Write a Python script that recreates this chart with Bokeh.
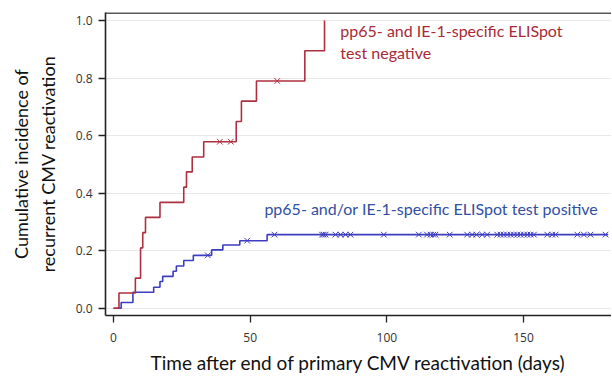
from bokeh.plotting import figure
from bokeh.models import Label, Range1d, FixedTicker, CustomJSTickFormatter, Span
from bokeh.embed import file_html
from bokeh.resources import INLINE

# Negative ELISpot group (red) - step curve
neg_time = [0, 2, 8, 9.9, 10.7, 11.7, 17, 25.7, 26.7, 28.8, 33, 44.9, 46.8, 52.3, 70, 77.2]
neg_inc = [0, 0.053, 0.105, 0.21, 0.263, 0.316, 0.368, 0.421, 0.474, 0.526, 0.579, 0.649, 0.72, 0.79, 0.895, 1.0]
neg_cens_time = [38.9, 42.9, 59.9]
neg_cens_inc = [0.579, 0.579, 0.79]

# Positive ELISpot group (blue) - step curve
pos_time = [0, 2.8, 7.1, 14.7, 17, 18, 21.8, 23, 25.7, 29.2, 35.9, 40, 46.2, 56.2, 181]
pos_inc = [0, 0.02, 0.056, 0.073, 0.093, 0.111, 0.129, 0.147, 0.166, 0.184, 0.203, 0.22, 0.235, 0.256, 0.256]
pos_cens_time = [34.5, 48.9, 58.9, 76.3, 76.9, 77.6, 81.2, 83.1, 84.9, 86.7, 98.9, 111.7, 114.7, 116, 117, 117.8,
                 123, 129.4, 131.2, 132.8, 134.9, 136.7, 140.4, 141.6, 142.8, 144, 145.3, 146.5, 147.7, 148.9,
                 150.2, 151.4, 152.6, 153.8, 158.7, 160.5, 161.7, 169.7, 172.1, 174.5, 180]
pos_cens_inc = [0.184, 0.235] + [0.256] * (len(pos_cens_time) - 2)

x_ticks = [0, 50, 100, 150]
y_ticks = [0.0, 0.2, 0.4, 0.6, 0.8, 1.0]

RED = "#ad3040"
RED_TXT = "#a82a36"
BLUE = "#3d3dc0"
BLUE_TXT = "#2f50a3"
FONT = "Lato"

p = figure(frame_width=506, frame_height=303, output_backend="svg", toolbar_location=None,
           x_range=Range1d(-2.93, 182.2), y_range=Range1d(-0.025, 1.028),
           min_border_left=105, min_border_right=0, min_border_top=12, min_border_bottom=62)

p.step(pos_time, pos_inc, mode="after", line_color=BLUE, line_width=1.6)
p.step(neg_time, neg_inc, mode="after", line_color=RED, line_width=1.6)
p.scatter(pos_cens_time, pos_cens_inc, marker="x", size=8, line_color=BLUE, line_width=1)
p.scatter(neg_cens_time, neg_cens_inc, marker="x", size=8, line_color=RED, line_width=1)

p.add_layout(Label(x=83, y=0.965, text="pp65- and IE-1-specific ELISpot", text_color=RED_TXT,
                   text_font=FONT, text_font_size="16px", text_baseline="middle"))
p.add_layout(Label(x=83, y=0.889, text="test negative", text_color=RED_TXT,
                   text_font=FONT, text_font_size="16px", text_baseline="middle"))
p.add_layout(Label(x=55.2, y=0.347, text="pp65- and/or IE-1-specific ELISpot test positive", text_color=BLUE_TXT,
                   text_font=FONT, text_font_size="16px", text_baseline="middle"))

p.xaxis.ticker = FixedTicker(ticks=x_ticks)
p.yaxis.ticker = FixedTicker(ticks=y_ticks)
p.yaxis.formatter = CustomJSTickFormatter(code="return tick.toFixed(1);")
p.xaxis.minor_tick_line_color = None
p.yaxis.minor_tick_line_color = None
for ax in (p.xaxis, p.yaxis):
    ax.axis_line_color = "#222222"
    ax.axis_line_width = 1.6
    ax.major_tick_line_color = "#222222"
    ax.major_tick_line_width = 1.3
    ax.major_tick_out = 7
    ax.major_tick_in = 0
    ax.major_label_text_font = "Open Sans"
    ax.major_label_text_font_size = "12px"
    ax.major_label_text_color = "#333333"
    ax.axis_label_text_font = FONT
    ax.axis_label_text_font_size = "18px"
    ax.axis_label_text_font_style = "normal"
    ax.axis_label_text_color = "#111111"

p.xaxis.axis_label_text_font_size = "19px"
p.xaxis.axis_label = "Time after end of primary CMV reactivation (days)"
p.yaxis.axis_label = "Cumulative incidence of\nrecurrent CMV reactivation"
p.xaxis.major_label_standoff = 10
p.xaxis.axis_label_standoff = 6
p.yaxis.major_label_standoff = 6
p.yaxis.axis_label_standoff = 14

p.xgrid.grid_line_color = None
p.ygrid.grid_line_color = "#e8e8e8"
p.ygrid.grid_line_width = 1.2
p.outline_line_color = None
p.add_layout(Span(location=1.0262, dimension="width", line_color="#222222", line_width=1.6))
p.background_fill_color = "white"
p.border_fill_color = "white"

open("out.html", "w").write(file_html(p, INLINE))
